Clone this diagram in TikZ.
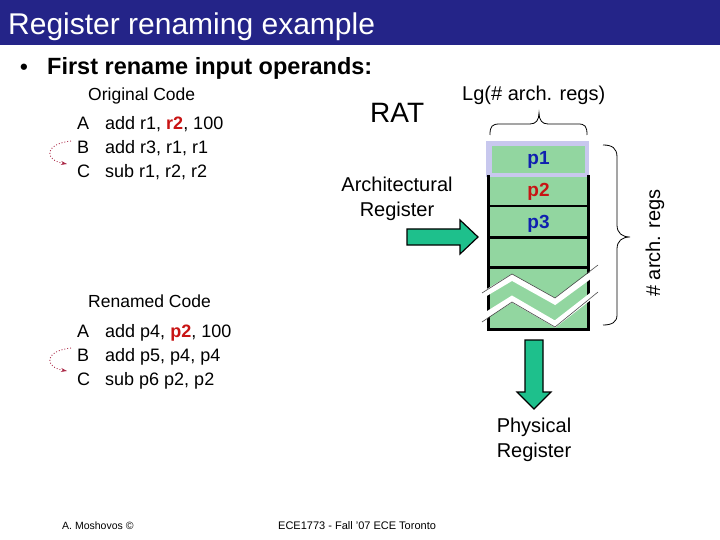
\documentclass[tikz,border=0pt]{standalone}
\usepackage{fontspec}
\setmainfont{Liberation Sans}
\usetikzlibrary{arrows.meta}
\definecolor{navy}{RGB}{36,36,136}
\definecolor{tgreen}{RGB}{146,214,160}
\definecolor{agreen}{RGB}{30,192,140}
\definecolor{lav}{RGB}{200,200,238}
\definecolor{rred}{RGB}{200,20,20}
\definecolor{pblue}{RGB}{16,32,176}
\definecolor{dred}{RGB}{170,40,70}
\tikzset{
  lbl/.style={inner sep=0pt, anchor=base west},
  clbl/.style={inner sep=0pt, anchor=base},
  codefont/.style={font=\fontsize{18}{21}\selectfont},
  midfont/.style={font=\fontsize{20}{24}\selectfont},
  rowline/.style={line width=3pt},
  bigarrow/.style={fill=agreen, draw=black, line width=1.2pt, line join=miter},
  depar/.style={draw=dred, dotted, line width=0.9pt, -{Stealth[length=6pt,width=4pt]}},
  bracestyle/.style={draw=black, line width=0.8pt},
  breakband/.style={white, line width=6pt, line join=miter},
  breakedge/.style={black!70, line width=0.6pt},
}
\begin{document}
\begin{tikzpicture}[x=1pt,y=-1pt]
\useasboundingbox (0,0) rectangle (720,540);
% title bar
\fill[navy] (0,0) rectangle (720,45);
\node[lbl, text=white, font=\fontsize{30}{34}\selectfont] (title) at (8,35) {Register renaming example};
% bullet
\node[lbl, font=\fontsize{22}{26}\selectfont\bfseries] (bul) at (20,75) {•};
\node[lbl, font=\fontsize{23.5}{28}\selectfont\bfseries] (head) at (47,75) {First rename input operands:};
% original code
\node[lbl, font=\fontsize{17.5}{21}\selectfont] (orig) at (88,101) {Original Code};
\node[lbl, codefont] (oa) at (77,130) {A};
\node[lbl, codefont] (oai) at (105,130) {add r1, \textcolor{rred}{\bfseries r2}, 100};
\node[lbl, codefont] (ob) at (77,154) {B};
\node[lbl, codefont] (obi) at (105,154) {add r3, r1, r1};
\node[lbl, codefont] (oc) at (77,178) {C};
\node[lbl, codefont] (oci) at (105,178) {sub r1, r2, r2};
\coordinate (os) at (71,141);
\coordinate (oe) at (67,164);
\draw[depar] (os) .. controls (44,144) and (44,160) .. (oe);
% renamed code
\node[lbl, font=\fontsize{17.5}{21}\selectfont] (ren) at (88,307) {Renamed Code};
\node[lbl, codefont] (ra) at (77,337) {A};
\node[lbl, codefont] (rai) at (105,337) {add p4, \textcolor{rred}{\bfseries p2}, 100};
\node[lbl, codefont] (rb) at (77,361) {B};
\node[lbl, codefont] (rbi) at (105,361) {add p5, p4, p4};
\node[lbl, codefont] (rc) at (77,385) {C};
\node[lbl, codefont] (rci) at (105,385) {sub p6 p2, p2};
\coordinate (rs) at (71,348);
\coordinate (re) at (67,371);
\draw[depar] (rs) .. controls (44,351) and (44,367) .. (re);
% RAT labels
\node[lbl, font=\fontsize{28}{32}\selectfont] (rat) at (370,123) {RAT};
\node[lbl, midfont] (lg) at (462,101) {Lg(\# arch. regs)};
\node[clbl, midfont] (arch1) at (397,192) {Architectural};
\node[clbl, midfont] (arch2) at (397,217) {Register};
% table
\fill[tgreen] (488,177) rectangle (588,329);
\fill[lav] (486,141) rectangle (589,177);
\fill[tgreen] (492,146) rectangle (585,173);
\node[font=\fontsize{19}{22}\selectfont\bfseries, text=pblue, inner sep=0pt] (p1) at (538.5,160) {p1};
\node[font=\fontsize{19}{22}\selectfont\bfseries, text=rred, inner sep=0pt] (p2) at (538.5,192) {p2};
\node[font=\fontsize{19}{22}\selectfont\bfseries, text=pblue, inner sep=0pt] (p3) at (538.5,224) {p3};
\draw[line width=1.6pt] (488,206) -- (588,206);
\draw[rowline] (488,237) -- (588,237);
\draw[rowline] (488,267) -- (588,267);
\draw[rowline, line cap=rect] (488,177) -- (488,329) -- (588,329) -- (588,177);
% break zigzag
\draw[breakband] (480,296.5) -- (512,277.5) -- (555,301.5) -- (600,268.5);
\draw[breakband] (480,319) -- (512,299) -- (555,324) -- (600,289);
\draw[breakedge] (482,293) -- (512,274) -- (555,298) -- (598,265);
\draw[breakedge] (482,322) -- (512,302) -- (555,327) -- (598,292);
% arrows
\draw[bigarrow] (407,229) -- (460,229) -- (460,220) -- (478,237) -- (460,254) -- (460,245) -- (407,245) -- cycle;
\draw[bigarrow] (525,340) -- (543,340) -- (543,392) -- (551,392) -- (534,409) -- (517,392) -- (525,392) -- cycle;
\node[clbl, midfont] (phys1) at (534,432) {Physical};
\node[clbl, midfont] (phys2) at (534,457) {Register};
% braces
\draw[bracestyle] (490,135) .. controls (490,126) and (492,124) .. (500,124) -- (530,124) .. controls (536,124) and (539,120) .. (539,113) .. controls (539,120) and (542,124) .. (548,124) -- (578,124) .. controls (585,124) and (587,126) .. (587,135);
\draw[bracestyle] (603,145) .. controls (612,145) and (617,148) .. (617,157) -- (617,225) .. controls (617,233) and (622,237) .. (630,237) .. controls (622,237) and (617,241) .. (617,249) -- (617,315) .. controls (617,322) and (612,325) .. (603,325);
\node[midfont, rotate=90, inner sep=0pt] (nregs) at (655,243) {\# arch. regs};
% footer
\node[lbl, font=\fontsize{10.5}{12}\selectfont] (auth) at (62,529) {A. Moshovos ©};
\node[lbl, font=\fontsize{11}{13}\selectfont] (course) at (278,529) {ECE1773 - Fall '07 ECE Toronto};
\end{tikzpicture}
\end{document}
